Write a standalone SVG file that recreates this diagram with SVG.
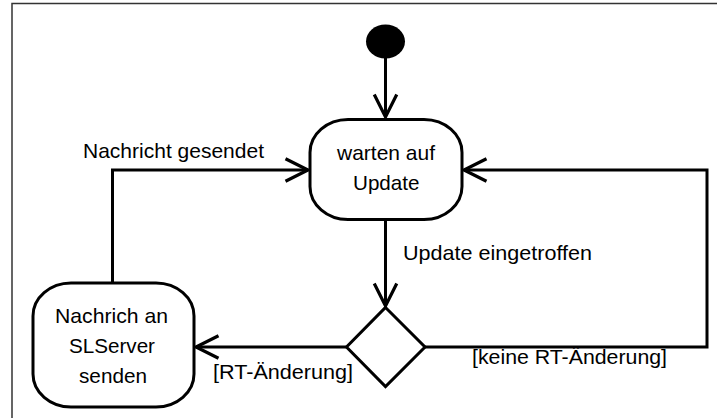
<svg xmlns="http://www.w3.org/2000/svg" width="717" height="418" viewBox="0 0 717 418">
  <defs>
    <marker id="open" markerUnits="userSpaceOnUse" markerWidth="30" markerHeight="30" viewBox="-24 -14 28 28" refX="0" refY="0" orient="auto">
      <path d="M-21,-10.5 L0,0 L-21,10.5" fill="none" stroke="#000" stroke-width="3"/>
    </marker>
  </defs>
  <style>
    .node { fill: #fff; stroke: #000; stroke-width: 3; }
    .edge { fill: none; stroke: #000; stroke-width: 3; marker-end: url(#open); }
    text { font-family: "Liberation Sans", Arial, sans-serif; font-size: 21px; fill: #000; }
  </style>
  <rect width="717" height="418" fill="#fff"/>
  <path d="M12,418 V3.5 H717" fill="none" stroke="#333" stroke-width="1.5"/>

  <g id="connectors">
    <path class="edge" d="M385.5,58 V117"/>
    <path class="edge" d="M385.5,221 V306"/>
    <path class="edge" d="M346.5,347 H196"/>
    <path class="edge" d="M425,347 H707 V170 H464"/>
    <path class="edge" d="M112.5,282 V170 H308"/>
  </g>

  <g id="start">
    <ellipse cx="385.5" cy="41.5" rx="19.5" ry="17" fill="#000"/>
  </g>

  <g id="warten">
    <rect class="node" x="310" y="119.5" width="152" height="100" rx="38" ry="33"/>
    <text x="337" y="159.5" textLength="98" lengthAdjust="spacingAndGlyphs">warten auf</text>
    <text x="353" y="190" textLength="66.5" lengthAdjust="spacingAndGlyphs">Update</text>
  </g>

  <g id="senden">
    <rect class="node" x="33" y="283" width="161" height="124" rx="38" ry="33"/>
    <text x="55" y="323" textLength="113" lengthAdjust="spacingAndGlyphs">Nachrich an</text>
    <text x="69" y="353" textLength="86" lengthAdjust="spacingAndGlyphs">SLServer</text>
    <text x="79" y="383" textLength="68" lengthAdjust="spacingAndGlyphs">senden</text>
  </g>

  <g id="decision">
    <polygon class="node" points="385.5,307.5 425,347 385.5,386.5 346.5,347"/>
  </g>

  <g id="labels">
    <text x="83" y="157.5" textLength="181" lengthAdjust="spacingAndGlyphs">Nachricht gesendet</text>
    <text x="403" y="260" textLength="189" lengthAdjust="spacingAndGlyphs">Update eingetroffen</text>
    <text x="213" y="378.5" textLength="140" lengthAdjust="spacingAndGlyphs">[RT-Änderung]</text>
    <text x="472" y="363.5" textLength="195" lengthAdjust="spacingAndGlyphs">[keine RT-Änderung]</text>
  </g>
</svg>
